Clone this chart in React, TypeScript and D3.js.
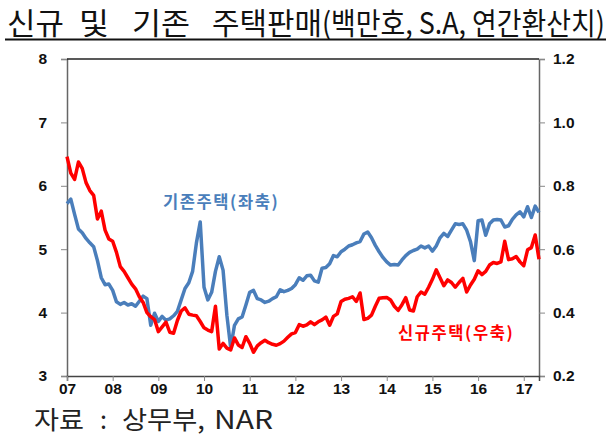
import { useRef, useEffect } from "react";
import * as d3 from "d3";

// monthly, Jan 2007 - May 2017
const yearLabels = ["07", "08", "09", "10", "11", "12", "13", "14", "15", "16", "17"];

// 기존주택 (left axis, millions)
const existingSales = [
  5.72, 5.79, 5.55, 5.32, 5.26, 5.17, 5.1, 5.04, 4.82, 4.55, 4.44, 4.45,
  4.35, 4.17, 4.13, 4.16, 4.12, 4.14, 4.1, 4.18, 4.26, 4.22, 3.8, 3.99,
  3.86, 3.94, 3.88, 3.9, 3.95, 4.02, 4.2, 4.38, 4.47, 4.65, 5.1, 5.43,
  4.4, 4.2, 4.32, 4.65, 4.88, 4.67, 3.96, 3.45, 3.8, 3.9, 3.93, 4.12,
  4.32, 4.35, 4.22, 4.2, 4.16, 4.18, 4.22, 4.25, 4.36, 4.33, 4.35, 4.38,
  4.44, 4.55, 4.51, 4.58, 4.59, 4.5, 4.48, 4.7, 4.71, 4.77, 4.9, 4.88,
  4.96, 5.0, 5.05, 5.07, 5.1, 5.12, 5.24, 5.27, 5.18, 5.06, 4.96, 4.87,
  4.8, 4.75, 4.76, 4.75, 4.83, 4.9, 4.95, 4.98, 5.0, 5.05, 5.02, 5.05,
  4.97, 5.05, 5.18, 5.25, 5.2, 5.3, 5.4, 5.39, 5.4, 5.3, 5.12, 4.82,
  5.45, 5.46, 5.22, 5.4, 5.46, 5.47, 5.46, 5.35, 5.37, 5.47, 5.54, 5.59,
  5.51, 5.67, 5.5, 5.68, 5.58,
];

// 신규주택 (right axis, millions)
const newSales = [
  0.892, 0.84, 0.82, 0.875, 0.855, 0.81, 0.785, 0.77, 0.695, 0.72, 0.66, 0.632,
  0.625, 0.59, 0.545, 0.53, 0.51, 0.49, 0.475, 0.45, 0.432, 0.4, 0.387, 0.378,
  0.34, 0.355, 0.37, 0.338, 0.335, 0.375, 0.405, 0.415, 0.395, 0.392, 0.39, 0.372,
  0.352, 0.345, 0.34, 0.42, 0.285, 0.303, 0.288, 0.282, 0.32, 0.298, 0.29, 0.324,
  0.303, 0.275, 0.295, 0.305, 0.313, 0.305, 0.3, 0.297, 0.302, 0.31, 0.322, 0.333,
  0.337, 0.362, 0.357, 0.361, 0.371, 0.362, 0.371, 0.377, 0.386, 0.36, 0.388, 0.396,
  0.435, 0.442, 0.445, 0.45, 0.435, 0.462, 0.378, 0.382, 0.392, 0.42, 0.445, 0.447,
  0.448, 0.44, 0.42, 0.407, 0.425, 0.447, 0.408, 0.405, 0.45, 0.465, 0.458, 0.48,
  0.505, 0.535, 0.51, 0.485, 0.503, 0.495, 0.48, 0.495, 0.508, 0.465, 0.487, 0.505,
  0.532, 0.52, 0.53, 0.55, 0.558, 0.555, 0.56, 0.625, 0.567, 0.57, 0.577, 0.56,
  0.548, 0.598, 0.605, 0.645, 0.568,
];

const leftTicks = [3, 4, 5, 6, 7, 8];
const rightTicks = [0.2, 0.4, 0.6, 0.8, 1.0, 1.2];

// title words: text, start x, width
const titleWords: [string, number, number][] = [
  ["신규", 7, 57],
  ["및", 79, 30],
  ["기존", 132, 58],
  ["주택판매", 212, 110],
  ["(백만호, S.A, 연간환산치)", 322, 283],
];
const sourceWords: [string, number, number][] = [
  ["자료", 34, 50],
  [":", 100, 7],
  ["상무부,", 122, 83],
  ["NAR", 214, 59],
];

const Chart = () => {
  const ref = useRef<SVGSVGElement | null>(null);

  useEffect(() => {
    if (ref.current === null) return;
    const svg = d3.select(ref.current);
    svg.selectAll("*").remove();

    const left = 67;
    const right = 539;
    const top = 59;
    const bottom = 376;
    const tickFont = "'Liberation Sans', Arial, sans-serif";
    const krFont = "'Noto Sans CJK KR', 'Noto Sans', sans-serif";

    const n = existingSales.length;
    const x = d3.scaleLinear().domain([0, n - 1]).range([left, right]);
    const yL = d3.scaleLinear().domain([3, 8]).range([bottom, top]);
    const yR = d3.scaleLinear().domain([0.2, 1.2]).range([bottom, top]);

    // squeezes a word into a given width with a horizontal scale
    const fitted = (
      parent: d3.Selection<any, unknown, null, undefined>,
      str: string,
      tx: number,
      ty: number,
      width: number
    ) => {
      const g = parent.append("g");
      const t = g.append("text").attr("x", 0).attr("y", 0).text(str);
      const natural = (t.node() as SVGTextElement).getComputedTextLength() || width;
      g.attr("transform", `translate(${tx},${ty}) scale(${width / natural},1)`);
    };

    // title
    const title = svg.append("g").attr("font-family", krFont).attr("font-size", 30).attr("fill", "#111");
    titleWords.forEach(([w, wx, wl]) => fitted(title, w, wx, 34, wl));
    svg
      .append("line")
      .attr("x1", 5)
      .attr("x2", 606)
      .attr("y1", 39.5)
      .attr("y2", 39.5)
      .attr("stroke", "#111")
      .attr("stroke-width", 2);

    // axes
    const axL = svg
      .append("g")
      .attr("transform", `translate(${left},0)`)
      .call(d3.axisLeft(yL).tickValues(leftTicks).tickSize(6).tickPadding(14).tickFormat(d3.format("d")));
    const axR = svg
      .append("g")
      .attr("transform", `translate(${right},0)`)
      .call(d3.axisRight(yR).tickValues(rightTicks).tickSize(6).tickPadding(8).tickFormat(d3.format(".1f")));
    const axB = svg
      .append("g")
      .attr("transform", `translate(0,${bottom})`)
      .call(
        d3
          .axisBottom(x)
          .tickValues(yearLabels.map((_, i) => i * 12))
          .tickSize(5)
          .tickPadding(2)
          .tickFormat((_, i) => yearLabels[i])
      );
    [axL, axR, axB].forEach((ax) => {
      ax.select(".domain").attr("stroke", "#666").attr("stroke-width", 1.5);
      ax.selectAll(".tick line").attr("stroke", "#888");
      ax.selectAll(".tick text")
        .attr("font-family", tickFont)
        .attr("font-weight", "bold")
        .attr("font-size", 15.5)
        .attr("fill", "#111");
    });
    axB.select(".domain").attr("stroke", "#444");

    // top frame
    svg
      .append("line")
      .attr("x1", left)
      .attr("x2", right)
      .attr("y1", top)
      .attr("y2", top)
      .attr("stroke", "#222")
      .attr("stroke-width", 1.5);

    // lines
    const lineL = d3
      .line<number>()
      .x((_, i) => x(i))
      .y((d) => yL(d));
    const lineR = d3
      .line<number>()
      .x((_, i) => x(i))
      .y((d) => yR(d));

    svg
      .append("path")
      .datum(existingSales)
      .attr("d", lineL)
      .attr("fill", "none")
      .attr("stroke", "#4a7ebb")
      .attr("stroke-width", 3.5)
      .attr("stroke-linejoin", "round");
    svg
      .append("path")
      .datum(newSales)
      .attr("d", lineR)
      .attr("fill", "none")
      .attr("stroke", "#ff0000")
      .attr("stroke-width", 3.5)
      .attr("stroke-linejoin", "round");

    // series labels
    svg
      .append("text")
      .attr("x", 163)
      .attr("y", 208)
      .attr("font-family", krFont)
      .attr("font-weight", "bold")
      .attr("font-size", 16.5)
      .attr("letter-spacing", 1.6)
      .attr("fill", "#4a7ebb")
      .text("기존주택(좌축)");
    svg
      .append("text")
      .attr("x", 398)
      .attr("y", 339)
      .attr("font-family", krFont)
      .attr("font-weight", "bold")
      .attr("font-size", 16.5)
      .attr("letter-spacing", 1.6)
      .attr("fill", "#ff0000")
      .text("신규주택(우축)");

    // source
    const src = svg.append("g").attr("font-family", krFont).attr("font-size", 25).attr("fill", "#222");
    sourceWords.forEach(([w, wx, wl]) => fitted(src, w, wx, 429, wl));
  }, []);

  return (
    <svg
      ref={ref}
      width={612}
      height={437}
      style={{ position: "absolute", left: 0, top: 0, background: "#fff" }}
    />
  );
};

export default function App() {
  return <Chart />;
}
